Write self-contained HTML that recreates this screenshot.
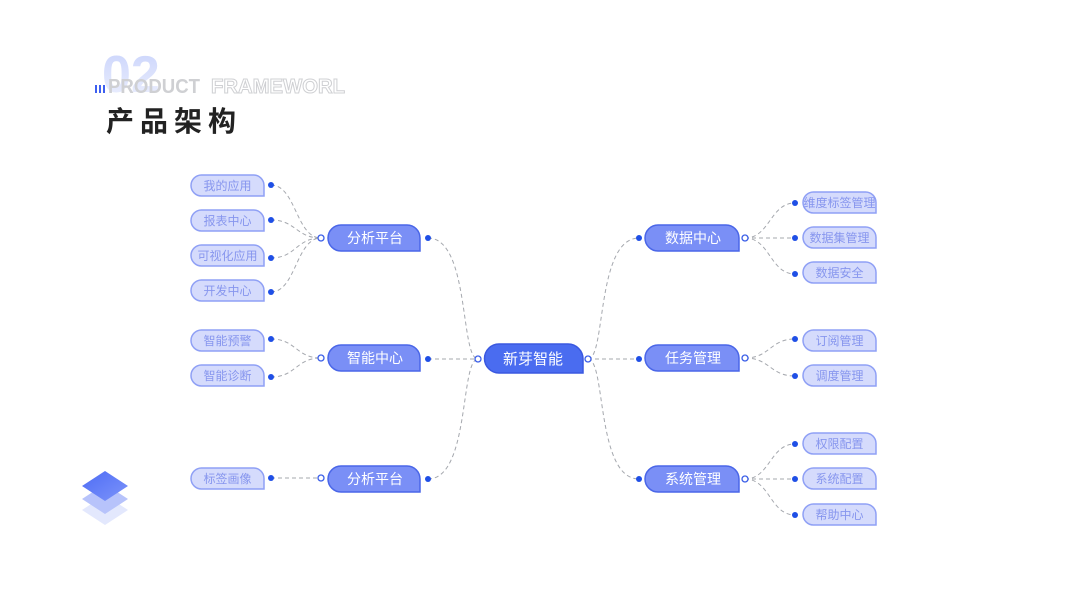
<!DOCTYPE html>
<html><head><meta charset="utf-8"><style>
html,body{margin:0;padding:0;background:#fff;}
svg{display:block;}
text{font-family:"Liberation Sans","Noto Sans CJK SC",sans-serif;}
</style></head><body>
<svg width="1067" height="600" viewBox="0 0 1067 600" xmlns="http://www.w3.org/2000/svg">
<defs>
<linearGradient id="g02" x1="0" y1="0" x2="0" y2="1">
<stop offset="0" stop-color="#c9d3fb"/><stop offset="1" stop-color="#eef1fe"/>
</linearGradient>
<linearGradient id="gl" x1="0" y1="0" x2="1" y2="1">
<stop offset="0" stop-color="#4d6cf5"/><stop offset="1" stop-color="#7d94fa"/>
</linearGradient>
</defs>
<!-- title -->
<text x="102" y="92" font-size="52" font-weight="bold" fill="url(#g02)">02</text>
<g fill="#3d5ff0"><rect x="95" y="85" width="2" height="8"/><rect x="99" y="85" width="2" height="8"/><rect x="103" y="85" width="2" height="8"/></g>
<text x="108" y="93" font-size="20" font-weight="bold" fill="#cfd0d3" textLength="92" lengthAdjust="spacingAndGlyphs">PRODUCT</text>
<text x="211" y="93" font-size="20" font-weight="bold" fill="none" stroke="#cfd0d3" stroke-width="1" textLength="134" lengthAdjust="spacingAndGlyphs">FRAMEWORL</text>
<text x="106" y="131" font-size="28" font-weight="bold" fill="#222" letter-spacing="6">产品架构</text>
<!-- logo -->
<polygon points="105,495 128,510 105,525 82,510" fill="#e3e8fd"/>
<polygon points="105,484 128,499 105,514 82,499" fill="#b7c3fb"/>
<polygon points="105,471 128,486 105,501 82,486" fill="url(#gl)"/>
<!-- connectors -->
<g fill="none" stroke="#a5a8ae" stroke-width="1" stroke-dasharray="4,3">
<path d="M271 185 C296 185 296 238 321 238"/>
<path d="M271 220 C296 220 296 238 321 238"/>
<path d="M271 258 C296 258 296 238 321 238"/>
<path d="M271 292 C296 292 296 238 321 238"/>
<path d="M271 339 C296 339 296 358 321 358"/>
<path d="M271 377 C296 377 296 358 321 358"/>
<path d="M271 478 L321 478"/>
<path d="M428 238 C470 238 460 359 478 359"/>
<path d="M428 359 L478 359"/>
<path d="M428 479 C470 479 460 359 478 359"/>
<path d="M588 359 C606 359 596 238 639 238"/>
<path d="M588 359 L639 359"/>
<path d="M588 359 C606 359 596 479 639 479"/>
<path d="M745 238 C770 238 770 203 795 203"/>
<path d="M745 238 L795 238"/>
<path d="M745 238 C770 238 770 274 795 274"/>
<path d="M745 358 C770 358 770 339 795 339"/>
<path d="M745 358 C770 358 770 376 795 376"/>
<path d="M745 479 C770 479 770 444 795 444"/>
<path d="M745 479 L795 479"/>
<path d="M745 479 C770 479 770 515 795 515"/>
</g>
<!-- leaves -->
<g stroke="#8fa0f5" stroke-width="1.5" fill="#d5dbfc">
<path d="M201.5 175 H253.5 A10.5 10.5 0 0 1 264 185.5 V196 H201.5 A10.5 10.5 0 0 1 201.5 175Z"/>
<path d="M201.5 210 H253.5 A10.5 10.5 0 0 1 264 220.5 V231 H201.5 A10.5 10.5 0 0 1 201.5 210Z"/>
<path d="M201.5 245 H253.5 A10.5 10.5 0 0 1 264 255.5 V266 H201.5 A10.5 10.5 0 0 1 201.5 245Z"/>
<path d="M201.5 280 H253.5 A10.5 10.5 0 0 1 264 290.5 V301 H201.5 A10.5 10.5 0 0 1 201.5 280Z"/>
<path d="M201.5 330 H253.5 A10.5 10.5 0 0 1 264 340.5 V351 H201.5 A10.5 10.5 0 0 1 201.5 330Z"/>
<path d="M201.5 365 H253.5 A10.5 10.5 0 0 1 264 375.5 V386 H201.5 A10.5 10.5 0 0 1 201.5 365Z"/>
<path d="M201.5 468 H253.5 A10.5 10.5 0 0 1 264 478.5 V489 H201.5 A10.5 10.5 0 0 1 201.5 468Z"/>
<path d="M813.5 192 H865.5 A10.5 10.5 0 0 1 876 202.5 V213 H813.5 A10.5 10.5 0 0 1 813.5 192Z"/>
<path d="M813.5 227 H865.5 A10.5 10.5 0 0 1 876 237.5 V248 H813.5 A10.5 10.5 0 0 1 813.5 227Z"/>
<path d="M813.5 262 H865.5 A10.5 10.5 0 0 1 876 272.5 V283 H813.5 A10.5 10.5 0 0 1 813.5 262Z"/>
<path d="M813.5 330 H865.5 A10.5 10.5 0 0 1 876 340.5 V351 H813.5 A10.5 10.5 0 0 1 813.5 330Z"/>
<path d="M813.5 365 H865.5 A10.5 10.5 0 0 1 876 375.5 V386 H813.5 A10.5 10.5 0 0 1 813.5 365Z"/>
<path d="M813.5 433 H865.5 A10.5 10.5 0 0 1 876 443.5 V454 H813.5 A10.5 10.5 0 0 1 813.5 433Z"/>
<path d="M813.5 468 H865.5 A10.5 10.5 0 0 1 876 478.5 V489 H813.5 A10.5 10.5 0 0 1 813.5 468Z"/>
<path d="M813.5 504 H865.5 A10.5 10.5 0 0 1 876 514.5 V525 H813.5 A10.5 10.5 0 0 1 813.5 504Z"/>
</g>
<g font-size="12" fill="#8796ee" text-anchor="middle">
<text x="227.5" y="190">我的应用</text>
<text x="227.5" y="225">报表中心</text>
<text x="227.5" y="260">可视化应用</text>
<text x="227.5" y="295">开发中心</text>
<text x="227.5" y="345">智能预警</text>
<text x="227.5" y="380">智能诊断</text>
<text x="227.5" y="483">标签画像</text>
<text x="839.5" y="207">维度标签管理</text>
<text x="839.5" y="242">数据集管理</text>
<text x="839.5" y="277">数据安全</text>
<text x="839.5" y="345">订阅管理</text>
<text x="839.5" y="380">调度管理</text>
<text x="839.5" y="448">权限配置</text>
<text x="839.5" y="483">系统配置</text>
<text x="839.5" y="519">帮助中心</text>
</g>
<!-- mid nodes -->
<g stroke="#4a66e8" stroke-width="1.5" fill="#7a8ff6">
<path d="M341 225 H407 A13 13 0 0 1 420 238 V251 H341 A13 13 0 0 1 341 225Z"/>
<path d="M341 345 H407 A13 13 0 0 1 420 358 V371 H341 A13 13 0 0 1 341 345Z"/>
<path d="M341 466 H407 A13 13 0 0 1 420 479 V492 H341 A13 13 0 0 1 341 466Z"/>
<path d="M658 225 H726 A13 13 0 0 1 739 238 V251 H658 A13 13 0 0 1 658 225Z"/>
<path d="M658 345 H726 A13 13 0 0 1 739 358 V371 H658 A13 13 0 0 1 658 345Z"/>
<path d="M658 466 H726 A13 13 0 0 1 739 479 V492 H658 A13 13 0 0 1 658 466Z"/>
</g>
<g font-size="14" fill="#fff" text-anchor="middle">
<text x="375" y="243">分析平台</text>
<text x="375" y="363">智能中心</text>
<text x="375" y="484">分析平台</text>
<text x="693" y="243">数据中心</text>
<text x="693" y="363">任务管理</text>
<text x="693" y="484">系统管理</text>
</g>
<!-- center -->
<path d="M499 344 H568 A15 15 0 0 1 583 359 V373 H499 A14.5 14.5 0 0 1 499 344Z" fill="#4a6cf0" stroke="#3a58e0" stroke-width="1.5"/>
<text x="533" y="364" font-size="15" fill="#fff" text-anchor="middle">新芽智能</text>
<!-- dots -->
<g fill="#1f4fe6">
<circle cx="271" cy="185" r="3"/><circle cx="271" cy="220" r="3"/><circle cx="271" cy="258" r="3"/><circle cx="271" cy="292" r="3"/>
<circle cx="271" cy="339" r="3"/><circle cx="271" cy="377" r="3"/><circle cx="271" cy="478" r="3"/>
<circle cx="428" cy="238" r="3"/><circle cx="428" cy="359" r="3"/><circle cx="428" cy="479" r="3"/>
<circle cx="639" cy="238" r="3"/><circle cx="639" cy="359" r="3"/><circle cx="639" cy="479" r="3"/>
<circle cx="795" cy="203" r="3"/><circle cx="795" cy="238" r="3"/><circle cx="795" cy="274" r="3"/>
<circle cx="795" cy="339" r="3"/><circle cx="795" cy="376" r="3"/>
<circle cx="795" cy="444" r="3"/><circle cx="795" cy="479" r="3"/><circle cx="795" cy="515" r="3"/>
</g>
<g fill="#fff" stroke="#3a5ee8" stroke-width="1.3">
<circle cx="321" cy="238" r="3"/><circle cx="321" cy="358" r="3"/><circle cx="321" cy="478" r="3"/>
<circle cx="478" cy="359" r="3"/><circle cx="588" cy="359" r="3"/>
<circle cx="745" cy="238" r="3"/><circle cx="745" cy="358" r="3"/><circle cx="745" cy="479" r="3"/>
</g>
</svg>
</body></html>
